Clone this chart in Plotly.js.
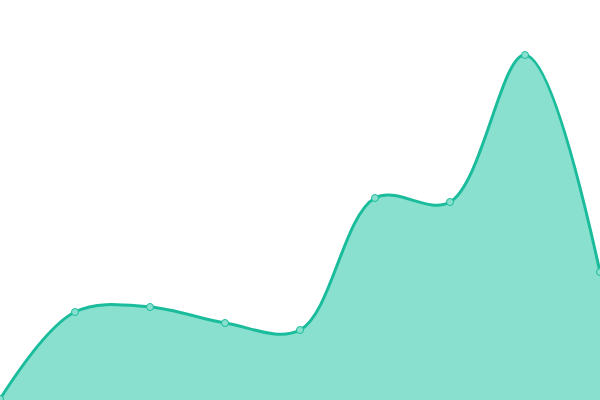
<!DOCTYPE html>
<html>
<head>
<meta charset="utf-8">
<script src="https://cdn.plot.ly/plotly-3.0.1.min.js"></script>
<style>
  html, body { margin: 0; padding: 0; background: #fff; }
  #chart { width: 600px; height: 400px; }
</style>
</head>
<body>
<div id="chart"></div>
<script>
var xs = [0, 1, 2, 3, 4, 5, 6, 7, 8];
var values = [1, 88, 93, 77, 70, 202, 198, 345, 128];

var trace = {
  x: xs,
  y: values,
  type: "scatter",
  mode: "lines+markers",
  fill: "tozeroy",
  fillcolor: "#89e0cf",
  line: { color: "#1abc9c", width: 3, shape: "spline", smoothing: 1 },
  marker: { size: 7, color: "#89e0cf", line: { color: "#1abc9c", width: 1 } },
  cliponaxis: true,
  hoverinfo: "none"
};

var layout = {
  width: 600,
  height: 400,
  margin: { l: 0, r: 0, t: 0, b: 0 },
  showlegend: false,
  paper_bgcolor: "#fff",
  plot_bgcolor: "#fff",
  xaxis: { range: [0, 8], visible: false, fixedrange: true },
  yaxis: { range: [0, 400], visible: false, fixedrange: true }
};

Plotly.newPlot("chart", [trace], layout, { displayModeBar: false, staticPlot: true });
</script>
</body>
</html>
